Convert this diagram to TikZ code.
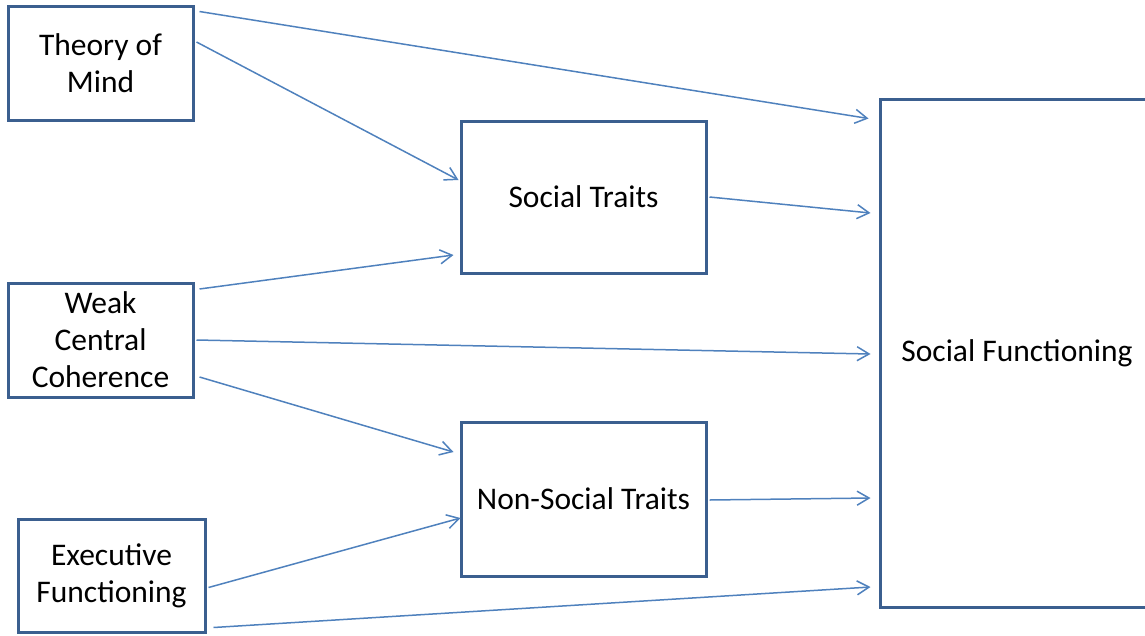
\documentclass[tikz,border=0pt]{standalone}
\usepackage{fontspec}
\setmainfont{Carlito}
\usetikzlibrary{arrows.meta}
\definecolor{boxc}{HTML}{3B5F8F}
\definecolor{arrc}{HTML}{4F81BD}
\begin{document}
\begin{tikzpicture}[x=1pt,y=-1pt,
  box/.style={draw=boxc,line width=3pt,fill=white,inner sep=0pt,align=center,
    font=\fontsize{31.5}{37}\selectfont,text=black},
  conn/.style={draw=arrc,line width=1.5pt,-{Straight Barb[length=12pt,width=14pt,line width=1.5pt]}}]
\useasboundingbox (0,0) rectangle (1145,635);
\node[box,minimum width=185pt,minimum height=114pt] (tom) at (100.5,63) {Theory of\\Mind};
\node[box,minimum width=185pt,minimum height=114pt] (wcc) at (100.5,340) {Weak\\Central\\Coherence};
\node[box,minimum width=187pt,minimum height=113pt] (ef) at (111.5,575.5) {Executive\\Functioning};
\node[box,minimum width=245pt,minimum height=152pt] (st) at (583.5,197) {Social Traits};
\node[box,minimum width=245pt,minimum height=154pt] (nst) at (583.5,499) {Non-Social Traits};
\node[box,minimum width=274pt,minimum height=508pt] (sf) at (1017,353) {\raisebox{-3pt}{Social Functioning}};
\draw[conn] ([shift={(5,7)}]tom.north east) -- ([shift={(-10,21)}]sf.north west);
\draw[conn] ([shift={(2,-21)}]tom.east) -- ([shift={(-1,-17)}]st.west);
\draw[conn] ([shift={(5,-51)}]wcc.east) -- ([shift={(-6,58)}]st.west);
\draw[conn] ([shift={(2,0)}]st.east) -- ([shift={(-8,-140)}]sf.west);
\draw[conn] ([shift={(2,0)}]wcc.east) -- ([shift={(-8,1)}]sf.west);
\draw[conn] ([shift={(5,37)}]wcc.east) -- ([shift={(-6,-47)}]nst.west);
\draw[conn] ([shift={(2,1)}]nst.east) -- ([shift={(-8,145)}]sf.west);
\draw[conn] ([shift={(2,12)}]ef.east) -- ([shift={(1,19)}]nst.west);
\draw[conn] ([shift={(7,-6)}]ef.south east) -- ([shift={(-8,234)}]sf.west);
\end{tikzpicture}
\end{document}
